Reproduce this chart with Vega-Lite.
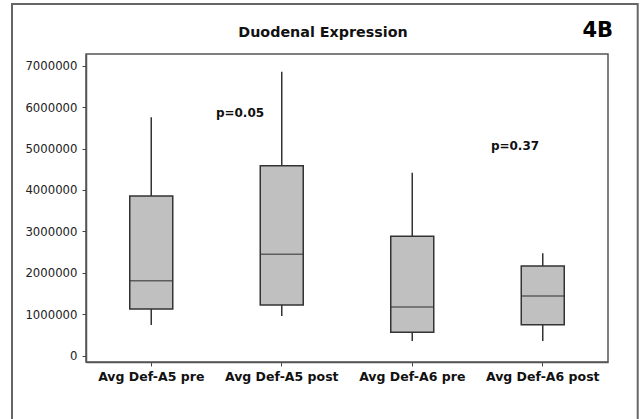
{
  "$schema": "https://vega.github.io/schema/vega-lite/v6.json",
  "autosize": "none",
  "padding": {"left": 86, "top": 54, "right": 36, "bottom": 57},
  "width": 522,
  "height": 308,
  "background": "white",
  "title": {
    "text": "Duodenal Expression",
    "font": "DejaVu Sans",
    "fontSize": 14.3,
    "fontWeight": "bold",
    "color": "#111",
    "anchor": "middle",
    "dx": -24,
    "offset": -48,
    "baseline": "alphabetic"
  },
  "datasets": {
    "boxes": [
      {"group": "Avg Def-A5 pre", "min": 741000, "q1": 1127000, "median": 1810000, "q3": 3855000, "max": 5754000},
      {"group": "Avg Def-A5 post", "min": 958000, "q1": 1224000, "median": 2447000, "q3": 4586000, "max": 6855000},
      {"group": "Avg Def-A6 pre", "min": 355000, "q1": 565000, "median": 1175000, "q3": 2882000, "max": 4417000},
      {"group": "Avg Def-A6 post", "min": 355000, "q1": 748000, "median": 1441000, "q3": 2165000, "max": 2471000}
    ],
    "notes": [
      {"label": "p=0.05", "group": "Avg Def-A5 post", "value": 5762000},
      {"label": "p=0.37", "group": "Avg Def-A6 post", "value": 4965000},
      {"label": "4B", "group": "Avg Def-A6 post", "value": 7692000}
    ]
  },
  "encoding": {
    "x": {
      "field": "group",
      "type": "nominal",
      "sort": ["Avg Def-A5 pre", "Avg Def-A5 post", "Avg Def-A6 pre", "Avg Def-A6 post"],
      "scale": {"type": "band", "domain": ["Avg Def-A5 pre", "Avg Def-A5 post", "Avg Def-A6 pre", "Avg Def-A6 post"], "paddingInner": 0, "paddingOuter": 0},
      "axis": {
        "title": null,
        "labelAngle": 0,
        "labelFont": "DejaVu Sans",
        "labelFontSize": 12.5,
        "labelFontWeight": "bold",
        "labelColor": "#111",
        "labelPadding": 4,
        "tickSize": 4,
        "tickColor": "#444",
        "domainColor": "#555",
        "domainWidth": 1.5,
        "grid": false
      }
    },
    "y": {
      "type": "quantitative",
      "scale": {"domain": [-152000, 7282000], "nice": false, "zero": false},
      "axis": {
        "title": null,
        "values": [0, 1000000, 2000000, 3000000, 4000000, 5000000, 6000000, 7000000],
        "format": "d",
        "labelFont": "DejaVu Sans",
        "labelFontSize": 11.7,
        "labelColor": "#222",
        "labelPadding": 5,
        "tickSize": 4,
        "tickColor": "#444",
        "domainColor": "#555",
        "domainWidth": 1.5,
        "grid": false
      }
    }
  },
  "layer": [
    {
      "data": {"values": [{"frame": 1}]},
      "mark": {"type": "rect", "fill": null, "stroke": "#666", "strokeWidth": 2, "clip": false},
      "encoding": {
        "x": {"datum": "Avg Def-A5 pre", "bandPosition": -0.567},
        "x2": {"datum": "Avg Def-A6 post", "bandPosition": 1.2276},
        "y": {"datum": 8489000},
        "y2": {"datum": -3000000}
      }
    },
    {
      "data": {"name": "boxes"},
      "mark": {"type": "rule", "color": "#333", "strokeWidth": 1.5},
      "encoding": {
        "y": {"field": "min", "type": "quantitative"},
        "y2": {"field": "max"}
      }
    },
    {
      "data": {"name": "boxes"},
      "mark": {"type": "bar", "size": 43, "fill": "#c0c0c0", "stroke": "#333", "strokeWidth": 1.5},
      "encoding": {
        "y": {"field": "q1", "type": "quantitative"},
        "y2": {"field": "q3"}
      }
    },
    {
      "data": {"name": "boxes"},
      "mark": {"type": "tick", "size": 43, "thickness": 1.5, "color": "#333"},
      "encoding": {
        "y": {"field": "median", "type": "quantitative"}
      }
    },
    {
      "data": {"name": "notes"},
      "transform": [{"filter": "datum.label === 'p=0.05'"}],
      "mark": {"type": "text", "font": "DejaVu Sans", "fontSize": 12, "fontWeight": "bold", "color": "#111", "align": "center", "baseline": "alphabetic", "dx": -41.75},
      "encoding": {
        "y": {"field": "value", "type": "quantitative"},
        "text": {"field": "label"}
      }
    },
    {
      "data": {"name": "notes"},
      "transform": [{"filter": "datum.label === 'p=0.37'"}],
      "mark": {"type": "text", "font": "DejaVu Sans", "fontSize": 12, "fontWeight": "bold", "color": "#111", "align": "center", "baseline": "alphabetic", "dx": -27.75},
      "encoding": {
        "y": {"field": "value", "type": "quantitative"},
        "text": {"field": "label"}
      }
    },
    {
      "data": {"name": "notes"},
      "transform": [{"filter": "datum.label === '4B'"}],
      "mark": {"type": "text", "font": "DejaVu Sans", "fontSize": 21, "fontWeight": "bold", "color": "#000", "align": "center", "baseline": "alphabetic", "dx": 55},
      "encoding": {
        "y": {"field": "value", "type": "quantitative"},
        "text": {"field": "label"}
      }
    }
  ],
  "config": {
    "view": {"stroke": "#555", "strokeWidth": 1.5}
  }
}
